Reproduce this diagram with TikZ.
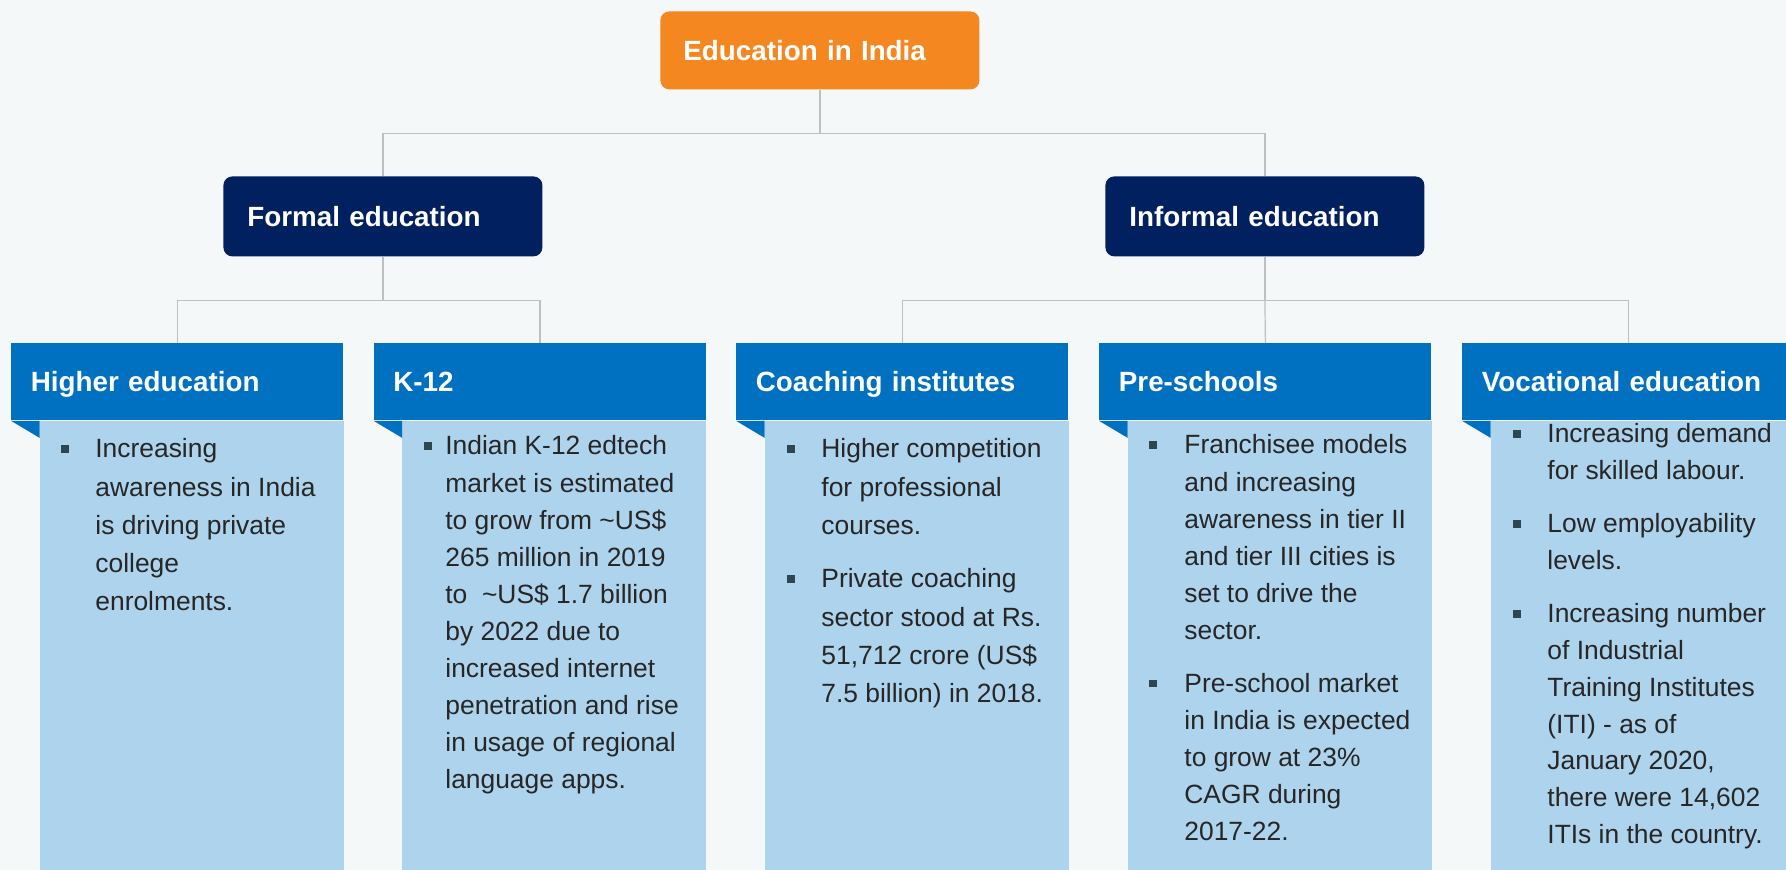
\documentclass[tikz,border=0pt]{standalone}
\usepackage{fontspec}
\setmainfont{Liberation Sans}
\definecolor{bgc}{HTML}{F4F8F9}
\definecolor{orangec}{HTML}{F58720}
\definecolor{navyc}{HTML}{002060}
\definecolor{hdrc}{HTML}{0070C0}
\definecolor{bodyc}{HTML}{AED3EC}
\definecolor{txtc}{HTML}{262626}
\definecolor{bulc}{HTML}{2E464F}
\definecolor{linec}{HTML}{BFBFBF}
\newcommand{\bul}[1]{\noindent\hspace*{-#1}\makebox[#1][l]{\raisebox{2.5pt}{\textcolor{bulc}{\rule{3.75pt}{3.75pt}}}}\ignorespaces}
\begin{document}
\begin{tikzpicture}[x=0.5pt,y=-0.5pt,
  topbox/.style={rectangle, rounded corners=4.5pt, fill=orangec, text=white,
    font=\bfseries\fontsize{13.9}{16.8}\selectfont, anchor=north west,
    minimum width=159.5pt, minimum height=39pt, inner xsep=11.5pt, inner ysep=0pt,
    text width=136.5pt, align=left, text depth=0pt},
  midbox/.style={rectangle, rounded corners=4.5pt, fill=navyc, text=white,
    font=\bfseries\fontsize{13.9}{16.8}\selectfont, anchor=north west,
    minimum width=159.5pt, minimum height=40pt, inner xsep=12pt, inner ysep=0pt,
    text width=135.5pt, align=left, text depth=0pt},
  hdrbox/.style={rectangle, fill=hdrc, text=white,
    font=\bfseries\fontsize{13.9}{16.8}\selectfont, anchor=north west,
    minimum width=166pt, minimum height=38.5pt, inner xsep=9.75pt, inner ysep=0pt,
    text width=146.5pt, align=left, text depth=0pt},
  bodytext/.style={anchor=base west, inner sep=0pt, text=txtc},
  conn/.style={draw=linec, line width=0.6pt}]
\useasboundingbox (0,0) rectangle (1786,870);
\clip (0,0) rectangle (1786,870);
\fill[bgc] (0,0) rectangle (1786,870);

% top level
\node[topbox] (top) at (660,11) {Education in India};
\node[midbox] (formal) at (223,176) {Formal education};
\node[midbox] (informal) at (1105,176) {Informal education};

% headers
\node[hdrbox] (h1) at (11,343) {Higher education};
\node[hdrbox] (h2) at (373.5,343) {K-12};
\node[hdrbox] (h3) at (736,343) {Coaching institutes};
\node[hdrbox] (h4) at (1099,343) {Pre-schools};
\node[hdrbox] (h5) at (1462,343) {Vocational education};

% bodies and folds
\foreach \h in {h1,h2,h3,h4,h5}{
  \fill[bodyc] ([xshift=14.25pt]\h.south west) rectangle ([yshift=-240pt]\h.south east);
  \fill[hdrc] (\h.south west) -- ([xshift=14.25pt]\h.south west) -- ([xshift=14.25pt,yshift=-8.5pt]\h.south west) -- cycle;
}

% connectors
\draw[conn] (top.south) -- ++(0,44) coordinate (j0) -| (formal.north);
\draw[conn] (j0) -| (informal.north);
\draw[conn] (formal.south) -- ++(0,44) coordinate (j1) -| (h1.north);
\draw[conn] (j1) -| (h2.north);
\draw[conn] (informal.south) -- ++(0,44) coordinate (j2) -| (h3.north);
\draw[conn] (j2) -- (h4.north);
\draw[conn] (j2) -| (h5.north);

% body texts
\node[bodytext, font=\fontsize{13.2}{19.1}\selectfont] (b1) at (95,458)
  {\parbox[t]{200pt}{\raggedright
  \bul{17pt}Increasing\\awareness in India\\is driving private\\college\\enrolments.}};

\node[bodytext, font=\fontsize{13.2}{18.55}\selectfont] (b2) at (445,455)
  {\parbox[t]{200pt}{\raggedright
  \bul{10.5pt}Indian K-12 edtech\\market is estimated\\to grow from \textasciitilde US\$\\265 million in 2019\\to\ \ \textasciitilde US\$ 1.7 billion\\by 2022 due to\\increased internet\\penetration and rise\\in usage of regional\\language apps.}};

\node[bodytext, font=\fontsize{13.2}{19.15}\selectfont] (b3) at (821,458)
  {\parbox[t]{200pt}{\raggedright
  \bul{17pt}Higher competition\\for professional\\courses.\par\vspace{7.5pt}
  \bul{17pt}Private coaching\\sector stood at Rs.\\51,712 crore (US\$\\7.5 billion) in 2018.}};

\node[bodytext, font=\fontsize{13.2}{18.6}\selectfont] (b4) at (1184,454)
  {\parbox[t]{200pt}{\raggedright
  \bul{17.5pt}Franchisee models\\and increasing\\awareness in tier II\\and tier III cities is\\set to drive the\\sector.\par\vspace{7.5pt}
  \bul{17.5pt}Pre-school market\\in India is expected\\to grow at 23\%\\CAGR during\\2017-22.}};

\node[bodytext, font=\fontsize{13.2}{18.35}\selectfont] (b5) at (1547,443)
  {\parbox[t]{200pt}{\raggedright
  \bul{17pt}Increasing demand\\for skilled labour.\par\vspace{8.3pt}
  \bul{17pt}Low employability\\levels.\par\vspace{8.3pt}
  \bul{17pt}Increasing number\\of Industrial\\Training Institutes\\(ITI) - as of\\January 2020,\\there were 14,602\\ITIs in the country.}};
\end{tikzpicture}
\end{document}
